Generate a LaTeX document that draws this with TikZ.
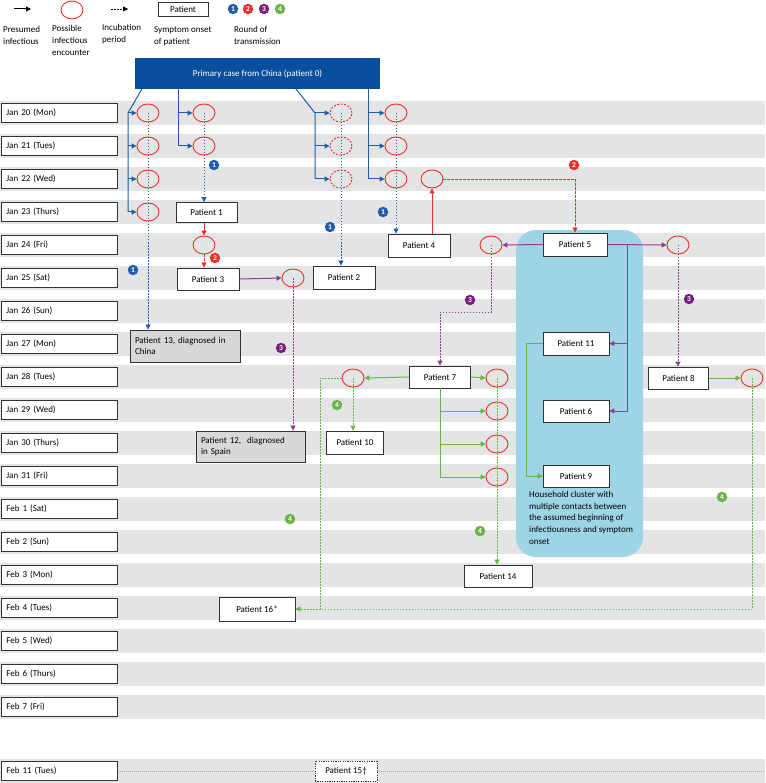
\documentclass[tikz,border=0pt]{standalone}
\usepackage{fontspec}
\setmainfont{Carlito}
\usepackage{xcolor}
\usetikzlibrary{arrows.meta,positioning,shapes.geometric}
\definecolor{bandgray}{HTML}{E3E4E6}
\definecolor{clusterblue}{HTML}{9DD4E6}
\definecolor{pblue}{HTML}{0A4F9E}
\definecolor{lblue}{HTML}{1F5DAA}
\definecolor{lred}{HTML}{E8322B}
\definecolor{lpurple}{HTML}{8E3D91}
\definecolor{bpurple}{HTML}{7A1F7B}
\definecolor{lgreen}{HTML}{6AB344}
\definecolor{boxgray}{HTML}{D6D8DA}

\begin{document}
\begin{tikzpicture}[x=1pt, y=-1pt, font=\fontsize{9}{11}\selectfont,
  band/.style={fill=bandgray},
  datebox/.style={draw=black!80, fill=white, line width=0.7pt, anchor=west,
    minimum width=116pt, minimum height=19pt, text width=106pt, inner sep=0pt, align=left},
  pbox/.style={draw=black!80, fill=white, line width=0.8pt, minimum height=22pt, inner sep=2pt},
  graybox/.style={pbox, fill=boxgray, align=left, inner xsep=5pt},
  primary/.style={fill=pblue, text=white, minimum width=245pt, minimum height=31pt},
  enc/.style={ellipse, draw=lred, line width=0.9pt, minimum width=22pt, minimum height=18pt, inner sep=0pt},
  encd/.style={enc, dash pattern=on 2pt off 1.5pt},
  badge/.style={circle, fill=#1, text=white, inner sep=0pt, minimum size=10.5pt,
    font=\fontsize{7.5}{7.5}\selectfont\bfseries},
  legtext/.style={anchor=north west, align=left, inner sep=0pt, font=\fontsize{9}{12.2}\selectfont},
  ln/.style={line width=1pt},
  arr/.style={line width=1pt, -{Triangle[length=5pt,width=5pt]}},
  inc/.style={line width=0.8pt, dash pattern=on 1.5pt off 1.5pt, -{Triangle[length=5pt,width=5pt]}}
]
\useasboundingbox (0,0) rectangle (765,783);

% legend
\coordinate (la1) at (14,9); \coordinate (la2) at (31,9);
\draw[arr, black] (la1) -- (la2);
\node[enc] (lenc) at (72,10) {};
\coordinate (lb1) at (111,9); \coordinate (lb2) at (128,9);
\draw[inc, black] (lb1) -- (lb2);
\node[pbox, minimum width=50pt, minimum height=14pt] (lpat) at (183,9) {Patient};
\node[badge=lblue] (lr1) at (233,9) {1};
\node[badge=lred] (lr2) at (248,9) {2};
\node[badge=bpurple] (lr3) at (264,9) {3};
\node[badge=lgreen] (lr4) at (280,9) {4};
\node[legtext] (lt1) at (3,26) {Presumed\\infectious};
\node[legtext] (lt2) at (52,25) {Possible\\infectious\\encounter};
\node[legtext] (lt3) at (102,24) {Incubation\\period};
\node[legtext] (lt4) at (154,26) {Symptom onset\\of patient};
\node[legtext] (lt5) at (234,26) {Round of\\transmission};

% days
\foreach \yy/\dd [count=\k] in {113/Jan 20 (Mon), 146/Jan 21 (Tues), 179/Jan 22 (Wed),
  212/Jan 23 (Thurs), 245/Jan 24 (Fri), 278/Jan 25 (Sat), 311/Jan 26 (Sun),
  344/Jan 27 (Mon), 377/Jan 28 (Tues), 410/Jan 29 (Wed), 443/Jan 30 (Thurs),
  476/Jan 31 (Fri), 509/Feb 1 (Sat), 542/Feb 2 (Sun), 575/Feb 3 (Mon),
  608/Feb 4 (Tues), 641/Feb 5 (Wed), 674/Feb 6 (Thurs), 707/Feb 7 (Fri), 771/Feb 11 (Tues)}{
  \fill[band] (0,\yy-12) rectangle (765,\yy+12);
  \node[datebox] (d\k) at (1,\yy) {\dd};
}

\fill[clusterblue, rounded corners=20pt] (516,230) rectangle (643,557);
\node[legtext, font=\fontsize{9}{11.7}\selectfont] (hh) at (529,491)
  {Household cluster with\\multiple contacts between\\the assumed beginning of\\infectiousness and symptom\\onset};

\node[primary] (p0) at (257.5,73.5) {Primary case from China (patient 0)};

% encounters
\foreach \yy [count=\i] in {113,146,179,212} \node[enc] (eA\i) at (148,\yy) {};
\foreach \yy [count=\i] in {113,146} \node[enc] (eB\i) at (204,\yy) {};
\foreach \yy [count=\i] in {113,146,179} \node[encd] (eC\i) at (341,\yy) {};
\foreach \yy [count=\i] in {113,146,179} \node[enc] (eD\i) at (396,\yy) {};
\node[enc] (e2a) at (204,245) {};
\node[enc] (e2b) at (432,179) {};
\node[enc] (e3a) at (491,245) {};
\node[enc] (e3b) at (678,245) {};
\node[enc] (e3c) at (293,278) {};
\node[enc] (e7l) at (353,378) {};
\foreach \yy [count=\i] in {378,411,444,477} \node[enc] (e7r\i) at (497,\yy) {};
\node[enc] (e8) at (752,378) {};

% patients
\node[pbox, minimum width=61pt, minimum height=20pt] (p1) at (206.5,212.5) {Patient 1};
\node[pbox, minimum width=62pt, minimum height=23pt] (p2) at (344,277.5) {Patient 2};
\node[pbox, minimum width=62pt] (p3) at (208,279) {Patient 3};
\node[pbox, minimum width=62pt, minimum height=23pt] (p4) at (419,245.5) {Patient 4};
\node[pbox, minimum width=64pt, minimum height=23pt] (p5) at (575,244.5) {Patient 5};
\node[pbox, minimum width=66pt] (p6) at (576,411) {Patient 6};
\node[pbox, minimum width=61pt] (p7) at (440,377) {Patient 7};
\node[pbox, minimum width=60pt] (p8) at (678.5,378) {Patient 8};
\node[pbox, minimum width=66pt] (p9) at (576,476) {Patient 9};
\node[pbox, minimum width=57pt, minimum height=23pt] (p10) at (355,442.5) {Patient 10};
\node[pbox, minimum width=66pt, minimum height=23pt] (p11) at (576,343.5) {Patient 11};
\node[graybox, minimum width=109pt, minimum height=31pt, text width=99pt] (p12) at (250.5,446.5) {Patient 12,\ \ diagnosed\\in Spain};
\node[graybox, minimum width=110pt, minimum height=32pt, text width=100pt] (p13) at (185,346) {Patient 13, diagnosed in\\China};
\node[pbox, minimum width=68pt] (p14) at (498,576) {Patient 14};
\node[pbox, minimum width=62pt, minimum height=20pt, dash pattern=on 1.2pt off 1.2pt] (p15) at (346,771) {Patient 15\textdagger};
\node[pbox, minimum width=76pt, minimum height=24pt] (p16) at (257,609) {Patient 16*};

% round 1
\coordinate (aj) at (128,113);
\coordinate (bj) at (178,89);
\coordinate (cs) at (296,89);
\coordinate (cj) at (315,113);
\coordinate (dj) at (368,89);
\draw[ln, lblue] ([xshift=7pt]p0.south west) -- (aj) -- (aj |- eA4);
\foreach \i in {1,...,4} \draw[arr, lblue] (aj |- eA\i) -- (eA\i.west);
\draw[ln, lblue] (bj) -- (bj |- eB2);
\foreach \i in {1,2} \draw[arr, lblue] (bj |- eB\i) -- (eB\i.west);
\draw[ln, lblue] (cs) -- (cj) -- (cj |- eC3);
\foreach \i in {1,...,3} \draw[arr, lblue] (cj |- eC\i) -- (eC\i.west);
\draw[ln, lblue] (dj) -- (dj |- eD3);
\foreach \i in {1,...,3} \draw[arr, lblue] (dj |- eD\i) -- (eD\i.west);
\draw[inc, lblue] (eA1.center) -- (eA1 |- p13.north);
\draw[inc, lblue] (eB1.center) -- (eB1 |- p1.north);
\draw[inc, lblue] (eC1.center) -- (eC1 |- p2.north);
\draw[inc, lblue] (eD1.center) -- (eD1 |- p4.north);
\node[badge=lblue] (b1a) at (214,165) {1};
\node[badge=lblue] (b1b) at (133,270) {1};
\node[badge=lblue] (b1c) at (330,227) {1};
\node[badge=lblue] (b1d) at (383,212) {1};

% round 2
\draw[arr, lred] (p1.south -| e2a) -- (e2a.north);
\draw[inc, lred, dash pattern=on 2.5pt off 1.5pt] (e2a.south) -- (e2a |- p3.north);
\draw[arr, lred] (p4.north -| e2b) -- (e2b.south);
\draw[inc, lred, dash pattern=on 2.5pt off 1.5pt] (e2b.east) -| (p5.north);
\node[badge=lred] (b2a) at (215,258) {2};
\node[badge=lred] (b2b) at (574,165) {2};

% round 3
\coordinate (hub) at (627,245);
\draw[arr, lpurple] (p5.west) -- (e3a.east);
\draw[arr, lpurple] (p5.east) -- (e3b.west);
\draw[arr, lpurple] (hub) |- (p11.east);
\draw[arr, lpurple] (hub) |- (p6.east);
\draw[arr, lpurple] (p3.east) -- (e3c.west);
\draw[inc, lpurple] (e3c.center) -- (e3c |- p12.north);
\draw[inc, lpurple] (e3a.center) -- ++(0,67) -| (p7.north);
\draw[inc, lpurple] (e3b.center) -- (e3b |- p8.north);
\node[badge=bpurple] (b3a) at (281,348) {3};
\node[badge=bpurple] (b3b) at (470,300) {3};
\node[badge=bpurple] (b3c) at (689,299) {3};

% round 4
\coordinate (g4l) at (320,609);
\draw[arr, lgreen] (p7.west) -- (e7l.east);
\draw[arr, lgreen] (p7.east) -- (e7r1.west);
\foreach \i in {2,3,4} \draw[arr, lgreen] (p7.south) |- (e7r\i.west);
\draw[arr, lgreen] (p11.west) -- ++(-16,0) |- (p9.west);
\draw[arr, lgreen] (p8.east) -- (e8.west);
\draw[inc, lgreen] (e7l.center) -- (e7l |- p10.north);
\draw[inc, lgreen] (e7r1.center) -- (e7r1 |- p14.north);
\draw[inc, lgreen] (e7l.west) -| (g4l) -- (p16.east);
\draw[inc, lgreen, -] (e8.center) |- (g4l);
\node[badge=lgreen] (b4a) at (337,405) {4};
\node[badge=lgreen] (b4b) at (290,519) {4};
\node[badge=lgreen] (b4c) at (480,531) {4};
\node[badge=lgreen] (b4d) at (722,497) {4};

% Feb 11
\coordinate (rEdge) at (765,771);
\draw[gray!70, line width=0.8pt, dash pattern=on 1pt off 1pt] (d20.east) -- (p15.west);
\draw[gray!70, line width=0.8pt, dash pattern=on 1pt off 1pt] (p15.east) -- (rEdge);
\end{tikzpicture}
\end{document}
